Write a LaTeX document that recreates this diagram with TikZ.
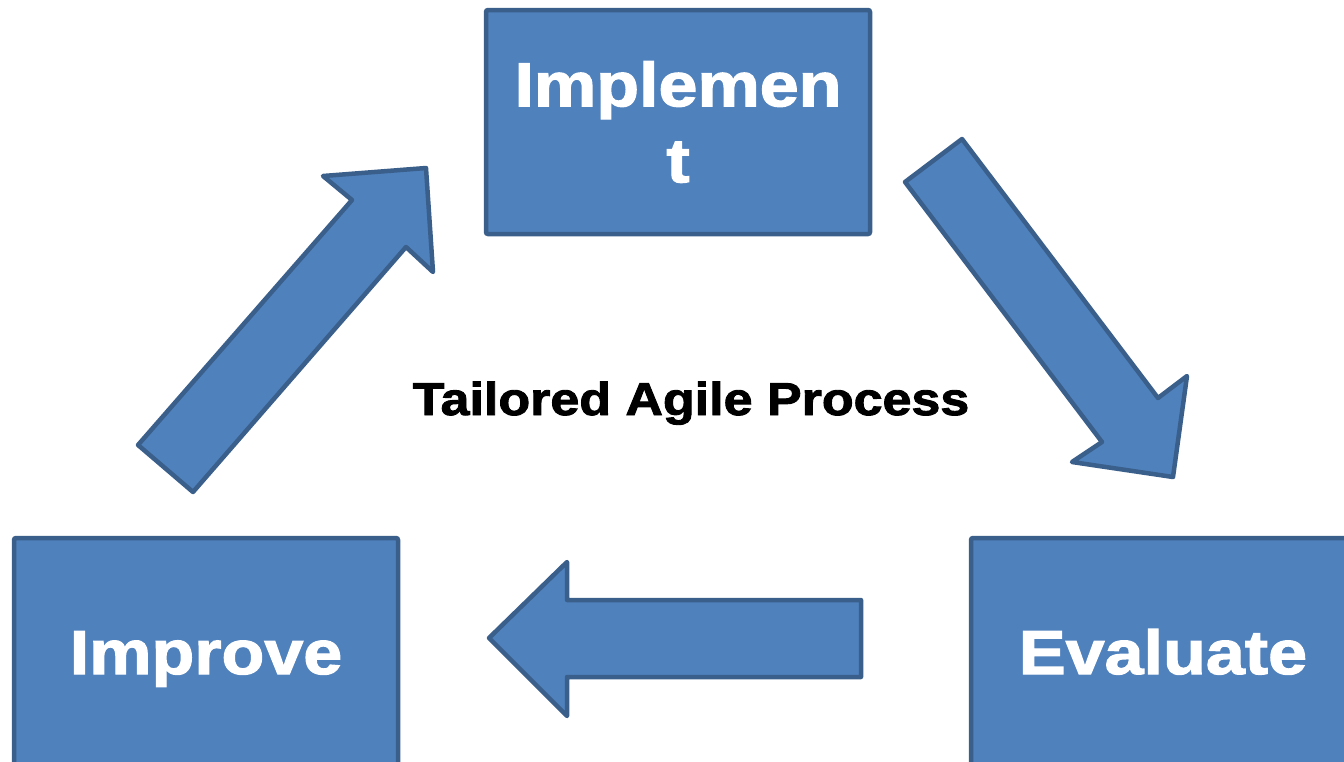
\documentclass[tikz,border=0pt]{standalone}
\usepackage{fontspec}
\setmainfont{Liberation Sans}
\newfontfamily\heavyfont{Liberation Sans}[BoldFeatures={FakeBold=2,FakeStretch=1.13}]
\definecolor{boxblue}{HTML}{4F81BD}
\definecolor{edgeblue}{HTML}{3A5F8B}
\tikzset{stepbox/.style={draw=edgeblue, fill=boxblue, line width=4.5pt,
  rounded corners=2pt, minimum width=384pt, minimum height=224pt,
  inner sep=0pt, text=white, align=center,
  font=\heavyfont\bfseries\fontsize{62}{76}\selectfont}}
\tikzset{lowbox/.style={stepbox, minimum height=238pt,
  text height=47pt, text depth=13pt}}
\tikzset{blockarrow/.style={draw=edgeblue, fill=boxblue, line width=4.5pt,
  line join=round}}

\begin{document}
\begin{tikzpicture}[x=1pt, y=-1pt]
\useasboundingbox (0,0) rectangle (1344,761);
\clip (0,0) rectangle (1344,761);

% the three steps
\node[stepbox] (implement) at (678,122) {Implemen\\t};
\node[lowbox] (improve) at (206,657) {Improve};
\node[lowbox] (evaluate) at (1163,657) {Evaluate};

% block arrows round the cycle
\draw[blockarrow] (138,445) -- (193,492) -- (406,247) -- (433,272)
  -- (426,168) -- (323,176) -- (352,200) -- cycle;
\draw[blockarrow] (962,139) -- (905,182) -- (1102,442) -- (1072,462)
  -- (1173,477) -- (1187,376) -- (1158,398) -- cycle;
\draw[blockarrow] (489,638) -- (567,562) -- (567,600) -- (861,600)
  -- (861,677) -- (567,677) -- (567,716) -- cycle;

\node[anchor=base, font=\heavyfont\bfseries\fontsize{46}{55}\selectfont]
  (title) at (691,415) {Tailored Agile Process};

\end{tikzpicture}
\end{document}
